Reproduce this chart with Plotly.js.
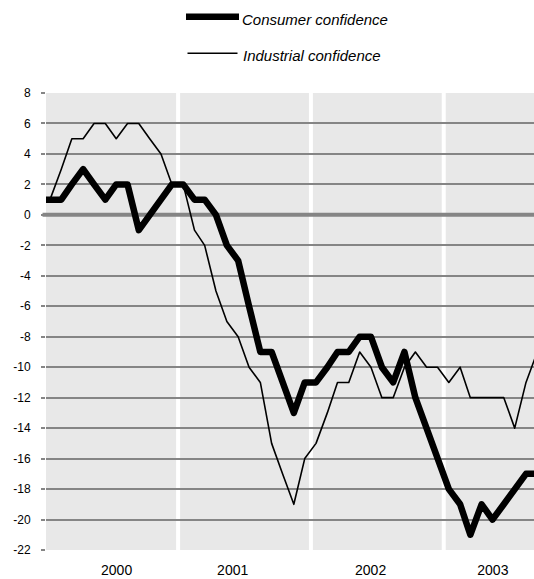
<!DOCTYPE html>
<html>
<head>
<meta charset="utf-8">
<script src="https://cdn.plot.ly/plotly-3.0.1.min.js"></script>
<style>
  html, body { margin: 0; padding: 0; background: #fff; }
  #chart { width: 534px; height: 579px; }
  .scatterlayer .js-line { stroke-linejoin: round !important; }
</style>
</head>
<body>
<div id="chart"></div>
<script>
// ---- data (monthly, first value is Dec 1999, clipped at the axis start) ----
const months = [
  '1999-12',
  '2000-01','2000-02','2000-03','2000-04','2000-05','2000-06','2000-07','2000-08','2000-09','2000-10','2000-11','2000-12',
  '2001-01','2001-02','2001-03','2001-04','2001-05','2001-06','2001-07','2001-08','2001-09','2001-10','2001-11','2001-12',
  '2002-01','2002-02','2002-03','2002-04','2002-05','2002-06','2002-07','2002-08','2002-09','2002-10','2002-11','2002-12',
  '2003-01','2003-02','2003-03','2003-04','2003-05','2003-06','2003-07','2003-08','2003-09'
];
const consumerConfidence = [
  1,
  1, 1, 2, 3, 2, 1, 2, 2, -1, 0, 1, 2,
  2, 1, 1, 0, -2, -3, -6, -9, -9, -11, -13, -11,
  -11, -10, -9, -9, -8, -8, -10, -11, -9, -12, -14, -16,
  -18, -19, -21, -19, -20, -19, -18, -17, -17
];
const industrialConfidence = [
  1,
  1, 3, 5, 5, 6, 6, 5, 6, 6, 5, 4, 2,
  2, -1, -2, -5, -7, -8, -10, -11, -15, -17, -19, -16,
  -15, -13, -11, -11, -9, -10, -12, -12, -10, -9, -10, -10,
  -11, -10, -12, -12, -12, -12, -14, -11, -9
];
const seriesNames = ['Consumer confidence', 'Industrial confidence'];
const years = [2000, 2001, 2002, 2003];
const yearLabelDates = ['2000-07-16', '2001-05-31', '2002-06-14', '2003-05-16'];
const yTickValues = [-22, -20, -18, -16, -14, -12, -10, -8, -6, -4, -2, 0, 2, 4, 6, 8];

// ---- layout helpers (pixel -> paper) ----
const W = 534, H = 579;
const M = {l: 46, r: 0, t: 93, b: 29};
const PW = W - M.l - M.r, PH = H - M.t - M.b;
const px = x => (x - M.l) / PW;
const py = y => 1 - (y - M.t) / PH;

const xDates = months.map(m => m + '-15');
const GRID = '#858585';
const FONT = '"Liberation Sans", Arial, sans-serif';

const traces = [
  {
    x: xDates, y: consumerConfidence, name: seriesNames[0],
    type: 'scatter', mode: 'lines',
    line: {color: '#000', width: 6.5},
    hoverinfo: 'skip'
  },
  {
    x: xDates, y: industrialConfidence, name: seriesNames[1],
    type: 'scatter', mode: 'lines',
    line: {color: '#000', width: 1.6},
    hoverinfo: 'skip'
  }
];

const shapes = [];
years.slice(1).forEach(y => {
  shapes.push({
    type: 'line', xref: 'x', yref: 'paper',
    x0: y + '-01-01', x1: y + '-01-01', y0: 0, y1: 1,
    line: {color: '#ffffff', width: 4}, layer: 'between'
  });
});
// zero line
shapes.push({
  type: 'line', xref: 'paper', yref: 'y',
  x0: px(42.5), x1: 1, y0: 0, y1: 0,
  line: {color: GRID, width: 4}, layer: 'between'
});
// legend samples
shapes.push({
  type: 'line', xref: 'paper', yref: 'paper',
  x0: px(186), x1: px(239), y0: py(16.7), y1: py(16.7),
  line: {color: '#000', width: 6.5}
});
shapes.push({
  type: 'line', xref: 'paper', yref: 'paper',
  x0: px(187.5), x1: px(237.5), y0: py(53.3), y1: py(53.3),
  line: {color: '#000', width: 1.6}
});

const annotations = [
  {
    xref: 'paper', yref: 'paper', x: px(239.5), y: py(19.5),
    xanchor: 'left', yanchor: 'middle', showarrow: false,
    text: '<i>' + seriesNames[0] + '</i>',
    font: {family: FONT, size: 15, color: '#000'}
  },
  {
    xref: 'paper', yref: 'paper', x: px(240.5), y: py(56),
    xanchor: 'left', yanchor: 'middle', showarrow: false,
    text: '<i>' + seriesNames[1] + '</i>',
    font: {family: FONT, size: 15, color: '#000'}
  }
];

const layout = {
  width: W, height: H,
  margin: M,
  paper_bgcolor: '#ffffff',
  plot_bgcolor: '#e8e8e8',
  showlegend: false,
  font: {family: FONT, color: '#000'},
  xaxis: {
    type: 'date',
    range: ['2000-01-04', '2003-09-06'],
    showgrid: false, zeroline: false, showline: false,
    ticks: '',
    tickmode: 'array',
    tickvals: yearLabelDates,
    ticktext: years.map(String),
    tickfont: {family: FONT, size: 14, color: '#000'},
    ticklabelstandoff: 10
  },
  yaxis: {
    range: [-22, 8],
    tickmode: 'array',
    tickvals: yTickValues,
    ticktext: yTickValues.map(v => String(v)),
    showgrid: true, gridcolor: GRID, gridwidth: 2,
    zeroline: false, showline: false,
    ticks: 'outside', ticklen: 4, tickwidth: 2, tickcolor: GRID,
    tickfont: {family: FONT, size: 12, color: '#000'},
    ticklabelstandoff: 8
  },
  shapes: shapes,
  annotations: annotations
};

Plotly.newPlot('chart', traces, layout, {displayModeBar: false, staticPlot: true});
</script>
</body>
</html>
